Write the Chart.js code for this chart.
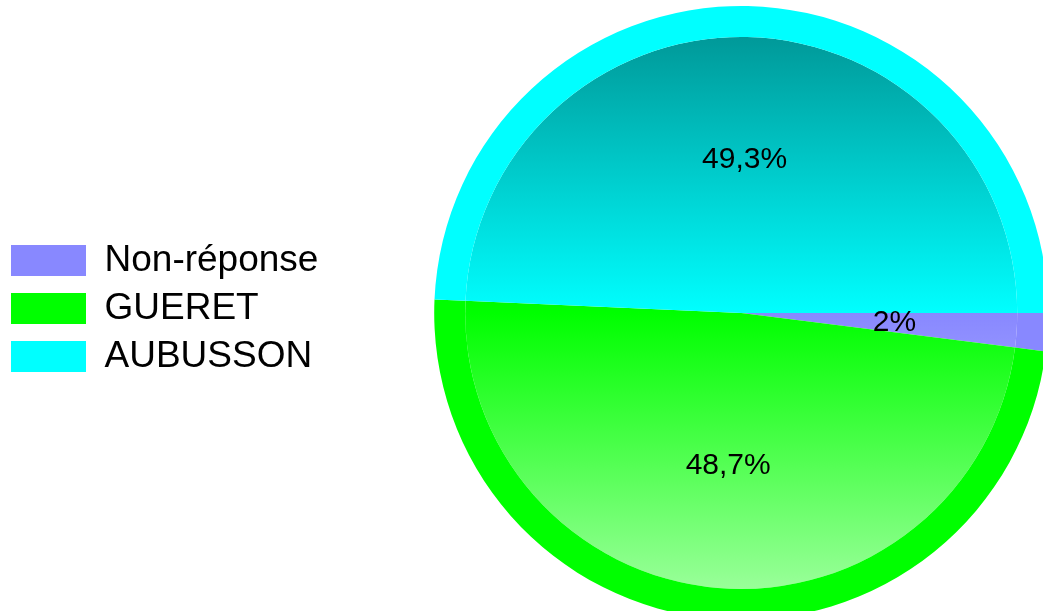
<!DOCTYPE html>
<html><head><meta charset="utf-8">
<script src="https://cdn.jsdelivr.net/npm/chart.js@4"></script>
<style>
html,body{margin:0;padding:0;background:#fff;overflow:hidden;width:1043px;height:611px}
#wrap{position:absolute;left:0;top:0;width:1043px;height:611px;overflow:hidden}
canvas{position:absolute;left:0;top:0}
</style></head><body>
<div id="wrap"><canvas id="c" width="1154" height="620" style="width:1154px;height:620px"></canvas></div>
<script>
const categories = ['Non-réponse', 'GUERET', 'AUBUSSON'];
const values = [2, 48.7, 49.3];
const colors = ['#8888ff', '#00ff00', '#00ffff'];

const RING = 31;
const INNER = 276;

function rgb(hex){ const n = parseInt(hex.slice(1),16); return [(n>>16)&255,(n>>8)&255,n&255]; }
function mix(hex, target, t){
  const a = rgb(hex), b = rgb(target);
  const c = a.map((v,i)=>Math.round(v+(b[i]-v)*t));
  return 'rgb('+c.join(',')+')';
}
function fmt(v){ return String(v).replace('.', ',') + '%'; }

function innerFill(ctx){
  const chart = ctx.chart, a = chart.chartArea;
  const base = colors[ctx.dataIndex];
  if(!a) return base;
  const R = Math.min(a.right-a.left, a.bottom-a.top)/2;
  const cy = (a.top+a.bottom)/2;
  const ri = R - RING;
  const g = chart.ctx.createLinearGradient(0, cy-ri, 0, cy+ri);
  g.addColorStop(0, mix(base, '#000000', 0.4));
  g.addColorStop(0.5, base);
  g.addColorStop(1, mix(base, '#ffffff', 0.6));
  return g;
}

const labelPlugin = {
  id: 'pctLabels',
  afterDatasetsDraw(chart){
    const meta = chart.getDatasetMeta(1);
    const outer = chart.getDatasetMeta(0).data[0];
    const ctx = chart.ctx;
    ctx.save();
    ctx.font = '30px "Liberation Sans", Arial, sans-serif';
    ctx.fillStyle = '#000';
    ctx.textAlign = 'center';
    ctx.textBaseline = 'middle';
    meta.data.forEach((arc, i) => {
      const p = arc.getProps(['x','y','startAngle','endAngle'], true);
      const mid = (p.startAngle + p.endAngle)/2;
      const r = outer.outerRadius/2;
      ctx.fillText(fmt(values[i]), p.x + Math.cos(mid)*r, p.y + Math.sin(mid)*r);
    });
    ctx.restore();
  }
};
const legendShift = {
  id: 'legendShift',
  afterLayout(chart){ const l = chart.legend; if(l){ l.top -= 4.5; l.bottom -= 4.5; } }
};

new Chart(document.getElementById('c'), {
  type: 'pie',
  data: {
    labels: categories,
    datasets: [
      { data: values, backgroundColor: colors, borderWidth: 0, weight: RING },
      { data: values, backgroundColor: innerFill, borderWidth: 0, weight: INNER }
    ]
  },
  options: {
    responsive: false,
    animation: false,
    rotation: 90,
    layout: { padding: { top: 6, bottom: 0, left: 0, right: 0 } },
    plugins: {
      tooltip: { enabled: false },
      legend: {
        position: 'left',
        labels: {
          boxWidth: 75, boxHeight: 31, padding: 11, color: '#000',
          font: { size: 37, family: '"Liberation Sans", Arial, sans-serif' }
        }
      }
    }
  },
  plugins: [labelPlugin, legendShift]
});
</script>
</body></html>
